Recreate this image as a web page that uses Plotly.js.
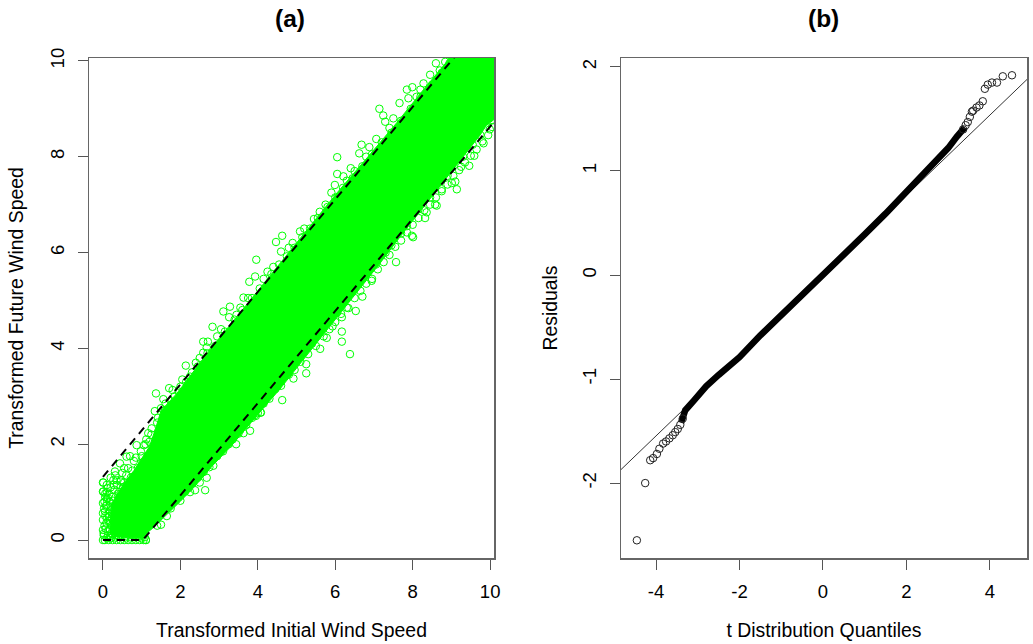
<!DOCTYPE html>
<html><head><meta charset="utf-8">
<script src="https://cdn.plot.ly/plotly-3.0.1.min.js"></script>
<style>html,body{margin:0;padding:0;background:#fff}#c{width:1033px;height:644px}</style>
</head><body><div id="c"></div>
<script>
// Panel (a): solid body of the point cloud
const coreX = [0.18,0.22,0.4,0.6,0.8,1.0,1.2,1.35,1.5,1.9,2.25,2.84,3.5,4.3,5.3,6.05,6.9,7.6,8.3,8.9,8.97,10.3,10.3,9.9,9.74,8.89,7.6,7.16,6.2,5.3,4.57,3.98,3.3,2.84,2.35,1.99,1.6,1.29,1.0,0.6,0.3];
const coreY = [0.15,0.75,1.0,1.25,1.45,1.7,1.95,2.3,2.7,3.05,3.42,4.05,4.7,5.5,6.52,7.25,8.05,8.72,9.42,10.0,10.2,10.2,8.9,8.65,8.45,7.58,6.25,5.78,4.8,3.9,3.15,2.6,1.95,1.56,1.1,0.8,0.5,0.25,0.06,0.06,0.08];
// Panel (a): individually visible points
const lowX = [0,0.05,0.15,0.25,0.35,0.45,0.55,0.65,0.75,0.85,0.95,1.05,1.11,0,0,0,0,0,0,0.02,0.04,0.06,0.03,0.1,0.12,0.14,0.18,0.2,0.22,0.08,0.16,0.24,0.3,0.12,0.26,0.34,0.4,0.28,0.42,0.5,0.6,0.7,0.8,0.9,1.0,0.48,0.58,0.68,0.78,0.88,0.38,0.46,0.2,0.1,0.06,0.32,0.16,0.44,0.36,0.52,
 0.02,0.07,0.13,0.09,0.17,0.23,0.28,0.19,0.11,0.05,0.15,0.23,0.3,0.36,0.41,0.47,0.53,0.62,0.68,0.74,0.82,0.87,0.93,0.98,1.04,1.08,1.0,0.57,0.33,0.21,0.1,0.04,0.1,0.17,0.06,0.13,0.22,0.27,0.33,0.25,0.2,0.1,0.3,0.36,0.42,0.47,0.55,0.6,0.72,0.76,0.9,1.02];
const lowY = [0,0,0,0,0,0,0,0,0,0,0,0,0,0.21,0.42,0.56,0.77,1.01,1.2,0.1,0.3,0.5,0.66,0.85,0.18,0.4,0.62,0.08,0.3,0.72,0.95,0.52,0.15,1.08,0.82,0.1,0.25,1.15,0.07,0.14,0.08,0.16,0.1,0.18,0.12,0.22,0.2,0.25,0.3,0.28,0.96,1.22,1.3,1.0,0.9,1.35,0.5,0.9,0.6,1.1,
 0.14,0.24,0.09,0.36,0.22,0.13,0.24,0.35,0.47,0.6,0.55,0.45,0.38,0.16,0.09,0.18,0.12,0.2,0.1,0.05,0.14,0.06,0.2,0.08,0.16,0.06,0.04,0.05,0.05,0.04,0.04,0.8,0.72,0.8,0.97,0.88,0.7,0.6,0.7,0.9,1.1,1.15,1.05,1.15,1.0,1.25,1.2,1.35,1.3,1.45,1.5,1.62];
const upperX = [1.37,1.56,1.71,1.8,1.34,1.17,1.26,0.87,1.06,0.61,0.7,0.31,0.44,0.27,0.01,0.01,3.96,4.47,4.63,4.6,5.09,3.78,3.93,3.63,3.11,3.28,3.26,2.83,2.59,2.71,2.68,2.59,2.14,2.25,6.05,7.14,7.24,7.29,6.68,6.62,6.88,7.06,6.4,6.05,5.99,6.21,7.85,7.99,7.66,7.89,8.45,8.6,8.84,8.28,0.55,0.8,0.98,1.12,1.42,1.62,1.95,2.05,2.4,2.5,2.95,3.05,3.45,3.55,3.75,4.15,4.25,4.4,4.8,4.9,5.2,5.45,5.6,5.75,5.9,6.3,6.5,6.8,7.4,7.5,8.1,8.2,8.7,
 2.3,2.45,2.7,2.9,3.15,3.4,3.6,3.85,4.05,4.35,4.55,4.75,4.95,5.15,5.35,5.55,5.8,6.0,6.2,6.45,6.7,6.95,7.2,7.45,7.7,7.95,8.2,8.5,8.75,8.95,0.35,0.5,0.65,0.85,1.0,1.1,1.2,1.25,1.4,1.5,1.6,1.75,1.85,2.0,2.15];
const upperY = [3.06,2.94,3.17,3.13,2.69,2.23,2.33,1.98,1.98,1.74,1.75,1.43,1.6,1.25,1.2,1.01,5.85,6.22,6.35,6.02,6.44,5.39,5.5,5.06,4.77,4.87,4.65,4.45,4.14,4.14,4.02,3.91,3.64,3.41,7.99,9.0,8.86,8.73,8.25,8.07,8.2,8.37,7.76,7.64,7.41,7.59,9.4,9.45,9.12,9.22,9.71,9.95,9.98,9.53,1.5,1.65,1.85,2.1,2.55,2.85,3.1,3.35,3.7,3.8,4.25,4.4,4.7,4.85,5.05,5.45,5.6,5.7,6.1,6.2,6.5,6.7,6.85,7.0,7.25,7.5,7.7,8.0,8.6,8.8,9.25,9.4,9.8,
 3.5,3.62,3.9,4.05,4.35,4.6,4.8,5.05,5.25,5.55,5.75,5.92,6.1,6.32,6.5,6.72,6.95,7.15,7.35,7.55,7.8,8.05,8.3,8.5,8.75,9.0,9.25,9.5,9.75,9.95,1.25,1.4,1.5,1.72,1.75,2.0,2.05,2.2,2.45,2.75,2.7,2.9,3.0,3.2,3.3];
const lowerX = [3.44,3.8,3.63,4.08,3.95,3.14,3.02,2.85,2.68,2.38,2.64,2.12,1.5,1.32,1.75,1.11,1.92,6.38,6.17,6.17,5.61,5.78,5.25,5.25,4.63,4.92,4.07,3.93,6.53,6.17,6.7,6.94,6.34,5.93,9.83,9.59,9.46,9.99,9.25,9.01,9.14,9.1,8.58,8.62,8.36,8.32,8.01,8.75,9.91,7.57,7.98,1.4,1.65,2.0,2.25,2.5,2.75,3.25,3.55,4.2,4.35,4.5,4.75,5.0,5.15,5.4,5.55,5.85,6.05,6.45,6.6,6.85,7.05,7.3,7.45,7.7,7.85,8.15,8.45,8.9,9.3,9.55,9.75,10.02,
 2.2,2.45,2.6,2.95,3.1,3.35,3.5,3.7,3.85,4.0,4.15,4.3,4.45,4.6,4.8,4.95,5.1,5.3,5.5,5.7,5.85,6.0,6.15,6.3,6.5,6.65,6.8,6.95,7.1,7.25,7.4,7.55,7.7,7.85,8.0,8.15,8.3,8.45,8.6,8.75,8.9,9.05,9.2,9.35,9.5,9.65,9.8,9.95,10.05];
const lowerY = [2.0,2.28,2.23,2.66,2.59,2.0,1.84,1.55,1.3,1.04,1.04,1.01,0.32,0.45,0.66,0,0.9,3.88,4.14,4.35,3.99,4.22,3.48,3.67,2.92,3.37,2.66,2.61,4.78,4.65,5.08,5.41,4.84,4.46,8.28,8.02,7.81,8.57,7.79,7.45,7.32,7.48,7.0,6.98,6.84,6.72,6.32,7.32,8.97,5.8,6.35,0.3,0.5,0.82,1.0,1.2,1.52,2.0,2.3,2.95,3.1,3.2,3.45,3.75,3.9,4.1,4.3,4.6,4.75,5.2,5.35,5.6,5.75,6.0,6.15,6.4,6.55,6.9,7.15,7.6,8.0,8.25,8.45,8.75,
 1.08,1.3,1.42,1.75,1.85,2.1,2.22,2.4,2.55,2.65,2.85,2.95,3.15,3.22,3.45,3.55,3.72,3.88,4.05,4.25,4.4,4.55,4.72,4.85,5.05,5.2,5.35,5.45,5.65,5.8,5.95,6.12,6.25,6.42,6.58,6.72,6.88,7.0,7.15,7.28,7.42,7.6,7.72,7.88,8.02,8.15,8.32,8.45,8.62];
// Panel (a): dashed limits
const limUpX = [0,9.1];
const limUpY = [1.32,10.1];
const limLowX = [0,1.03,10.2];
const limLowY = [0,0,8.82];
// Panel (b): dense run of the residuals and the separate tail points
const denseQ = [-3.4,-3.3,-3.1,-2.8,-2.5,-2,-1.5,-1,-0.5,0,0.5,1,1.5,2,2.3,2.6,2.8,3,3.21,3.4];
const denseR = [-1.42,-1.3,-1.21,-1.07,-0.96,-0.79,-0.58,-0.39,-0.19,0,0.19,0.39,0.59,0.8,0.92,1.04,1.13,1.22,1.33,1.42];
const tailQ = [-4.46,-4.26,-4.14,-4.07,-3.98,-3.92,-3.83,-3.76,-3.68,-3.6,-3.54,-3.48,-3.42,-3.36,3.36,3.42,3.47,3.52,3.57,3.6,3.68,3.75,3.83,3.88,3.95,4.05,4.17,4.31,4.53];
const tailR = [-2.55,-2.0,-1.78,-1.76,-1.72,-1.67,-1.62,-1.6,-1.57,-1.54,-1.51,-1.48,-1.44,-1.38,1.4,1.44,1.47,1.52,1.57,1.58,1.61,1.63,1.67,1.79,1.83,1.85,1.85,1.91,1.92];
const refQ = [-4.84,4.89];
const refR = [-1.87,1.88];
// Tick labels
const aTicks = [0,2,4,6,8,10];
const qTicks = [-4,-2,0,2,4];
const qLabels = ['-4','-2','0','2','4'];
const rTicks = [-2,-1,0,1,2];
const rLabels = ['-2','-1','0','1','2'];

const G = '#00ff00';
const circ = (c) => ({symbol:'circle-open', size:7.5, color:c, line:{width:1, color:c}});
const pts = (x,y,c,ax) => ({x,y,type:'scatter',mode:'markers',marker:circ(c),xaxis:ax[0],yaxis:ax[1],showlegend:false,hoverinfo:'skip',cliponaxis:true});
const traces = [
 {x:coreX,y:coreY,type:'scatter',mode:'lines',fill:'toself',fillcolor:G,line:{color:G,width:1},xaxis:'x',yaxis:'y',showlegend:false,hoverinfo:'skip'},
 pts(lowX,lowY,G,['x','y']),
 pts(upperX,upperY,G,['x','y']),
 pts(lowerX,lowerY,G,['x','y']),
 {x:limUpX,y:limUpY,type:'scatter',mode:'lines',line:{color:'#000',width:2,dash:'8px,6px'},xaxis:'x',yaxis:'y',showlegend:false,hoverinfo:'skip'},
 {x:limLowX,y:limLowY,type:'scatter',mode:'lines',line:{color:'#000',width:2,dash:'8px,6px'},xaxis:'x',yaxis:'y',showlegend:false,hoverinfo:'skip'},
 {x:refQ,y:refR,type:'scatter',mode:'lines',line:{color:'#333',width:1},xaxis:'x2',yaxis:'y2',showlegend:false,hoverinfo:'skip'},
 {x:denseQ,y:denseR,type:'scatter',mode:'lines',line:{color:'#000',width:6.5},xaxis:'x2',yaxis:'y2',showlegend:false,hoverinfo:'skip'},
 pts(tailQ,tailR,'#222',['x2','y2'])
];
const F = 'Liberation Sans, Arial, sans-serif';
const W = 1033, H = 644;
const axis = (o) => Object.assign({showgrid:false,zeroline:false,showline:true,mirror:true,linecolor:'#666',linewidth:1.5,ticks:'outside',ticklen:10,tickcolor:'#555',tickfont:{family:F,size:18.5,color:'#000'},automargin:false},o);
const ttl = (t,s) => ({text:t,font:{family:F,size:19.4,color:'#000'},standoff:s});
const layout = {
 width:W,height:H,margin:{l:0,r:0,t:0,b:0},paper_bgcolor:'#fff',plot_bgcolor:'#fff',showlegend:false,
 xaxis:axis({domain:[89/W,494/W],range:[-0.36,10.1],tickmode:'array',tickvals:aTicks,ticktext:aTicks.map(String),ticklabelstandoff:6,title:ttl('Transformed Initial Wind Speed',22),anchor:'y'}),
 yaxis:axis({domain:[(H-558)/H,(H-58)/H],range:[-0.375,10.06],tickmode:'array',tickvals:aTicks,ticktext:aTicks.map(String),tickangle:-90,ticklabelstandoff:6,title:ttl('Transformed Future Wind Speed',18),anchor:'x'}),
 xaxis2:axis({domain:[621/W,1027/W],range:[-4.84,4.89],tickmode:'array',tickvals:qTicks,ticktext:qLabels,ticklabelstandoff:6,title:ttl('t Distribution Quantiles',22),anchor:'y2'}),
 yaxis2:axis({domain:[(H-558)/H,(H-58)/H],range:[-2.72,2.086],tickmode:'array',tickvals:rTicks,ticktext:rLabels,tickangle:-90,ticklabelstandoff:6,title:ttl('Residuals',16),anchor:'x2'}),
 annotations:[
  {text:'<b>(a)</b>',xref:'paper',yref:'paper',x:290/W,y:1-18/H,xanchor:'center',yanchor:'middle',showarrow:false,font:{family:F,size:24.5,color:'#000'}},
  {text:'<b>(b)</b>',xref:'paper',yref:'paper',x:823/W,y:1-18/H,xanchor:'center',yanchor:'middle',showarrow:false,font:{family:F,size:24.5,color:'#000'}}
 ]
};
Plotly.newPlot('c',traces,layout,{displayModeBar:false,staticPlot:true});
</script></body></html>
